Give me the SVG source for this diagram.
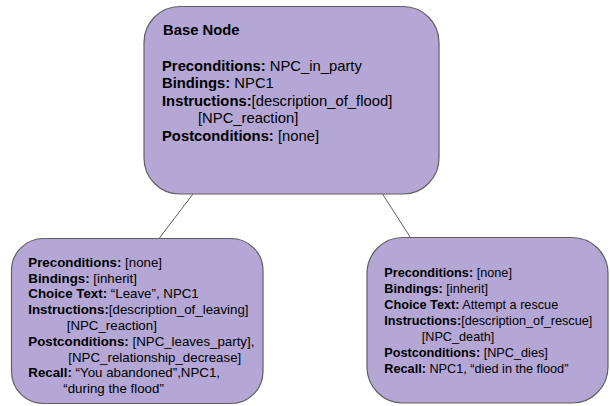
<svg xmlns="http://www.w3.org/2000/svg" width="610" height="406" viewBox="0 0 610 406">
<style>
.box{fill:#b4a7d6;stroke:#5f5f5f;stroke-width:1.2}
.edge{stroke:#5f5f5f;stroke-width:1;fill:none}
text{font-family:"Liberation Sans",Arial,sans-serif;fill:#000}
.t{font-size:14.8px}
.s{font-size:12.7px}
.l{font-size:13.3px}
.b{font-weight:bold}
</style>
<rect width="610" height="406" fill="#ffffff"/>
<g id="connectors">
<line class="edge" x1="193" y1="194" x2="159" y2="238.5"/>
<line class="edge" x1="382.5" y1="194" x2="412" y2="240"/>
</g>
<g id="base-node">
<rect class="box" x="144" y="6.5" width="295" height="187.5" rx="36" ry="36"/>
<text class="t b" x="163" y="34.5">Base Node</text>
<text class="t" x="162" y="70.7"><tspan class="b">Preconditions:</tspan> NPC_in_party</text>
<text class="t" x="162" y="88.2"><tspan class="b">Bindings:</tspan> NPC1</text>
<text class="t" x="162" y="105.7"><tspan class="b">Instructions:</tspan>[description_of_flood]</text>
<text class="t" x="198" y="123.2">[NPC_reaction]</text>
<text class="t" x="162" y="140.7"><tspan class="b">Postconditions:</tspan> [none]</text>
</g>
<g id="leave-node">
<rect class="box" x="11.5" y="238.5" width="251.5" height="165" rx="32" ry="32"/>
<text class="l" x="28.3" y="266.7"><tspan class="b">Preconditions:</tspan> [none]</text>
<text class="l" x="28.3" y="282.5"><tspan class="b">Bindings:</tspan> [inherit]</text>
<text class="l" x="28.3" y="298.4"><tspan class="b">Choice Text:</tspan> “Leave”, NPC1</text>
<text class="l" x="28.3" y="314.3"><tspan class="b">Instructions:</tspan>[description_of_leaving]</text>
<text class="l" x="66.7" y="330.3">[NPC_reaction]</text>
<text class="l" x="28.3" y="346.1"><tspan class="b">Postconditions:</tspan> [NPC_leaves_party],</text>
<text class="l" x="68.3" y="361.8">[NPC_relationship_decrease]</text>
<text class="l" x="28.3" y="377.4"><tspan class="b">Recall:</tspan> “You abandoned”,NPC1,</text>
<text class="l" x="63.3" y="393.3">“during the flood”</text>
</g>
<g id="rescue-node">
<rect class="box" x="367" y="237.5" width="241" height="165.5" rx="36" ry="36"/>
<text class="s" x="384.3" y="277.3"><tspan class="b">Preconditions:</tspan> [none]</text>
<text class="s" x="384.3" y="293.3"><tspan class="b">Bindings:</tspan> [inherit]</text>
<text class="s" x="384.3" y="309.3"><tspan class="b">Choice Text:</tspan> Attempt a rescue</text>
<text class="s" x="384.3" y="325.3"><tspan class="b">Instructions:</tspan>[description_of_rescue]</text>
<text class="s" x="421.7" y="341.3">[NPC_death]</text>
<text class="s" x="384.3" y="357.3"><tspan class="b">Postconditions:</tspan> [NPC_dies]</text>
<text class="s" x="384.3" y="373.3"><tspan class="b">Recall:</tspan> NPC1, “died in the flood”</text>
</g>
</svg>
